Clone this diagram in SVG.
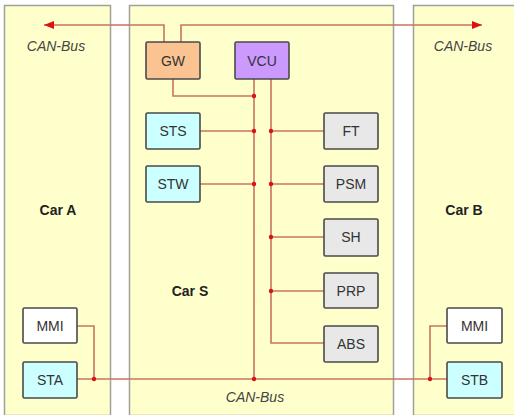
<svg xmlns="http://www.w3.org/2000/svg" width="514" height="415" viewBox="0 0 514 415">
<defs>
<style>
.panel{fill:#FFFFCC;stroke:#A0A09A;stroke-width:1.5}
.box{stroke:#4A4A4A;stroke-width:1.6}
.lbl{font-family:"Liberation Sans",Arial,sans-serif;font-size:14px;fill:#333;text-anchor:middle}
.car{font-family:"Liberation Sans",Arial,sans-serif;font-size:14px;font-weight:bold;fill:#222;text-anchor:middle}
.bus{font-family:"Liberation Sans",Arial,sans-serif;font-size:14px;font-style:italic;fill:#444;text-anchor:middle}
.ln{fill:none;stroke:#C87462;stroke-width:1.6}
.dot{fill:#DD1111}
</style>
<marker id="ah" viewBox="0 0 10 8" refX="10" refY="4" markerWidth="10" markerHeight="8" markerUnits="userSpaceOnUse" orient="auto">
<path d="M0,0 L10,4 L0,8 Z" fill="#DD1111"/>
</marker>
</defs>
<rect width="514" height="415" fill="#FFFFFF"/>
<g id="carA"><rect class="panel" x="4.5" y="5.5" width="106" height="410"/><text class="car" x="58" y="215">Car A</text><text class="bus" x="56" y="51">CAN-Bus</text></g>
<g id="carS"><rect class="panel" x="129.5" y="5.5" width="264" height="410"/><text class="car" x="190" y="296">Car S</text><text class="bus" x="255" y="402">CAN-Bus</text></g>
<g id="carB"><rect class="panel" x="413.5" y="5.5" width="110" height="410"/><text class="car" x="464" y="215">Car B</text><text class="bus" x="463" y="51">CAN-Bus</text></g>
<g id="connectors">
<path class="ln" d="M164,42 V25 H44" marker-end="url(#ah)"/>
<path class="ln" d="M181,42 V25 H482" marker-end="url(#ah)"/>
<path class="ln" d="M173,79 V96 H254"/>
<path class="ln" d="M254,79 V379"/>
<path class="ln" d="M271,79 V343 H324"/>
<path class="ln" d="M200,131 H254"/>
<path class="ln" d="M271,131 H324"/>
<path class="ln" d="M200,184 H254"/>
<path class="ln" d="M271,184 H324"/>
<path class="ln" d="M271,237 H324"/>
<path class="ln" d="M271,291 H324"/>
<path class="ln" d="M77,379 H447"/>
<path class="ln" d="M77,326 H94 V379"/>
<path class="ln" d="M447,326 H430 V379"/>
<circle class="dot" cx="254" cy="96" r="2.2"/>
<circle class="dot" cx="254" cy="131" r="2.2"/>
<circle class="dot" cx="271" cy="131" r="2.2"/>
<circle class="dot" cx="254" cy="184" r="2.2"/>
<circle class="dot" cx="271" cy="184" r="2.2"/>
<circle class="dot" cx="271" cy="237" r="2.2"/>
<circle class="dot" cx="271" cy="291" r="2.2"/>
<circle class="dot" cx="254" cy="379" r="2.2"/>
<circle class="dot" cx="94" cy="379" r="2.2"/>
<circle class="dot" cx="430" cy="379" r="2.2"/>
</g>
<g id="GW"><rect class="box" x="146" y="42" width="54" height="37" rx="1.5" fill="#FBC392"/><text class="lbl" x="173" y="65.5">GW</text></g>
<g id="VCU"><rect class="box" x="235" y="42" width="54" height="37" rx="1.5" fill="#CC99FF"/><text class="lbl" x="262" y="65.5">VCU</text></g>
<g id="STS"><rect class="box" x="146" y="113" width="54" height="36" rx="1.5" fill="#CCFFFF"/><text class="lbl" x="173" y="136">STS</text></g>
<g id="STW"><rect class="box" x="146" y="166" width="54" height="36" rx="1.5" fill="#CCFFFF"/><text class="lbl" x="173" y="189">STW</text></g>
<g id="FT"><rect class="box" x="324" y="113" width="54" height="36" rx="1.5" fill="#E8E8E8"/><text class="lbl" x="351" y="136">FT</text></g>
<g id="PSM"><rect class="box" x="324" y="166" width="54" height="36" rx="1.5" fill="#E8E8E8"/><text class="lbl" x="351" y="189">PSM</text></g>
<g id="SH"><rect class="box" x="324" y="219" width="54" height="37" rx="1.5" fill="#E8E8E8"/><text class="lbl" x="351" y="242">SH</text></g>
<g id="PRP"><rect class="box" x="324" y="273" width="54" height="35" rx="1.5" fill="#E8E8E8"/><text class="lbl" x="351" y="295.5">PRP</text></g>
<g id="ABS"><rect class="box" x="324" y="326" width="54" height="36" rx="1.5" fill="#E8E8E8"/><text class="lbl" x="351" y="349">ABS</text></g>
<g id="MMI_A"><rect class="box" x="23" y="308" width="54" height="35" rx="1.5" fill="#FFFFFF"/><text class="lbl" x="50" y="330.5">MMI</text></g>
<g id="STA"><rect class="box" x="23" y="362" width="54" height="36" rx="1.5" fill="#CCFFFF"/><text class="lbl" x="50" y="385">STA</text></g>
<g id="MMI_B"><rect class="box" x="447" y="308" width="55" height="35" rx="1.5" fill="#FFFFFF"/><text class="lbl" x="474.5" y="330.5">MMI</text></g>
<g id="STB"><rect class="box" x="447" y="362" width="55" height="36" rx="1.5" fill="#CCFFFF"/><text class="lbl" x="474.5" y="385">STB</text></g>
</svg>
